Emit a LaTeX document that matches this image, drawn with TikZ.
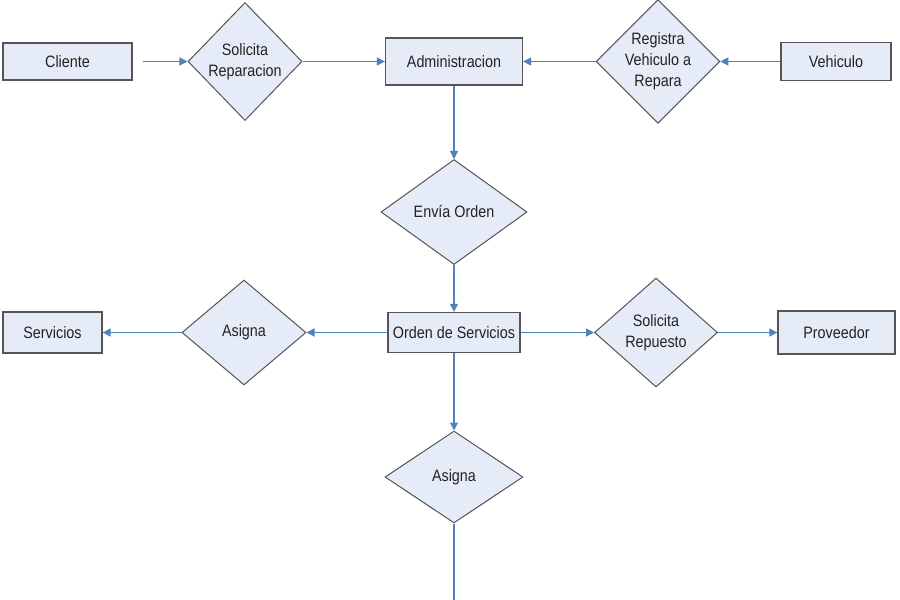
\documentclass[tikz,border=0pt]{standalone}
\usepackage{fontspec}
\setmainfont[FakeStretch=0.87]{Liberation Sans}
\usetikzlibrary{shapes.geometric,arrows.meta}
\definecolor{boxfill}{HTML}{E6ECF7}
\definecolor{boxline}{HTML}{555555}
\definecolor{arrowblue}{HTML}{4F81BD}
\definecolor{txt}{HTML}{222222}
\tikzset{
  every node/.style={text=txt, font=\fontsize{16.5}{21}\selectfont, align=center},
  entity/.style={rectangle, draw=boxline, fill=boxfill, line width=1.3pt, inner sep=0pt},
  relation/.style={diamond, draw=boxline, fill=boxfill, line width=1pt, inner sep=0pt},
  conn/.style={draw=arrowblue, line width=1.2pt, -{Triangle[length=8pt,width=8pt]}},
  plainconn/.style={draw=arrowblue, line width=1.2pt}
}
\begin{document}
\begin{tikzpicture}[x=1pt,y=-1pt]
\useasboundingbox[fill=white] (0,0) rectangle (900,600);
% entities
\node[entity, minimum width=129pt, minimum height=37pt] (cliente) at (67.5,61.5) {Cliente};
\node[entity, minimum width=137pt, minimum height=47pt] (admin) at (454,61.5) {Administracion};
\node[entity, minimum width=110pt, minimum height=38pt] (vehiculo) at (836,61.5) {Vehiculo};
\node[entity, minimum width=99pt, minimum height=41pt] (servicios) at (52.5,332.5) {Servicios};
\node[entity, minimum width=132pt, minimum height=40pt] (orden) at (454,332.5) {Orden de Servicios};
\node[entity, minimum width=117pt, minimum height=43pt] (proveedor) at (836.5,332.5) {Proveedor};
% relations
\node[relation, minimum width=114pt, minimum height=118pt] (solrep) at (245,61.5) {Solicita\\Reparacion};
\node[relation, minimum width=122pt, minimum height=120pt] (registra) at (658,61.5) {Registra\\Vehiculo a\\Repara};
\node[relation, minimum width=146pt, minimum height=105pt] (envia) at (454,212) {Envía Orden};
\node[relation, minimum width=124pt, minimum height=105pt] (asignaL) at (244,332.5) {Asigna};
\node[relation, minimum width=123pt, minimum height=109pt] (solrepu) at (656,332.5) {Solicita\\Repuesto};
\node[relation, minimum width=138pt, minimum height=92pt] (asignaB) at (454,477) {Asigna};
\coordinate (bottomend) at (454,600);
% connectors
\draw[conn, shorten <=10pt] (cliente) -- (solrep);
\draw[conn] (solrep) -- (admin);
\draw[conn] (registra) -- (admin);
\draw[conn] (vehiculo) -- (registra);
\draw[conn] (admin) -- (envia);
\draw[conn] (envia) -- (orden);
\draw[conn] (orden) -- (asignaL);
\draw[conn] (asignaL) -- (servicios);
\draw[conn] (orden) -- (solrepu);
\draw[conn] (solrepu) -- (proveedor);
\draw[conn] (orden) -- (asignaB);
\draw[plainconn] (asignaB) -- (bottomend);
\end{tikzpicture}
\end{document}
